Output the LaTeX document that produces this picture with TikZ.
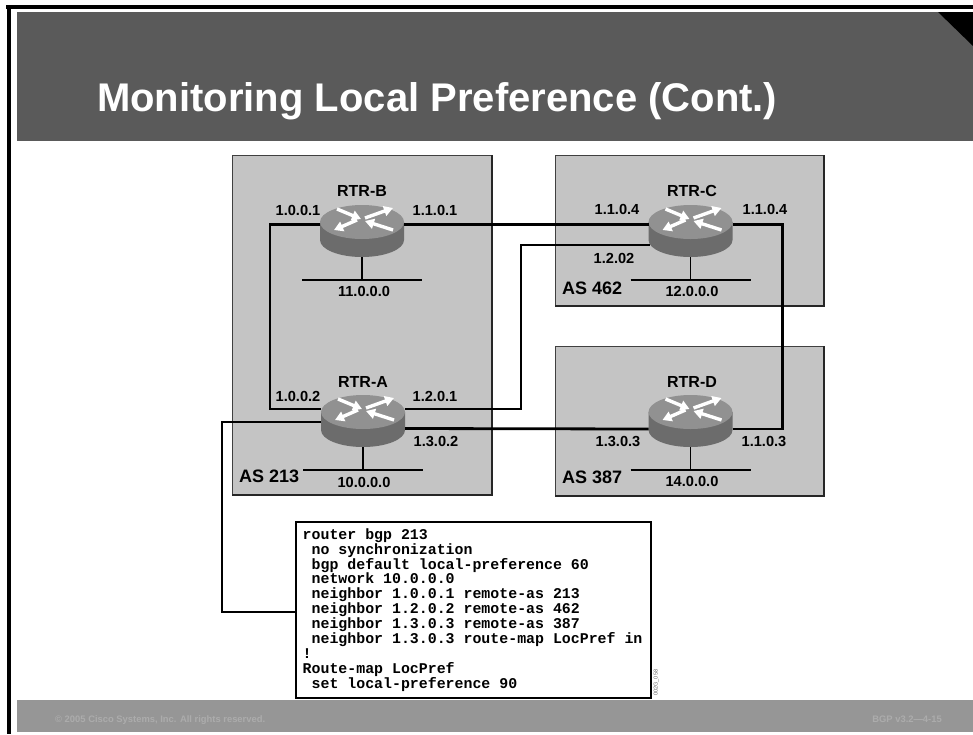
\documentclass[tikz,border=0pt]{standalone}
\usepackage{fontspec}
\setmainfont{Liberation Sans}
\setmonofont{Liberation Mono}
\usetikzlibrary{arrows.meta}
\usetikzlibrary{calc}
\definecolor{headgrey}{RGB}{90,90,90}
\definecolor{footgrey}{RGB}{150,150,150}
\definecolor{foottext}{RGB}{172,172,172}
\definecolor{boxgrey}{RGB}{196,196,196}
\definecolor{routertop}{RGB}{145,145,145}
\definecolor{routerbody}{RGB}{108,108,108}
\def\cind{\hspace*{8.94pt}}
\tikzset{rtrshape/.pic={code={
    \fill [routerbody] (-42, -9) -- (-42, 9)
        arc [start angle=180,end angle=360,x radius=42pt,y radius=17pt] -- (42, -9) -- cycle;
    \fill [routertop] (0, -9) ellipse [x radius=42pt,y radius=17pt];
    \draw [rarrow] (-25, -22) -- (-1, -12);
    \draw [rarrow] (  3, -13) -- (31, -23);
    \draw [rarrow] ( -5, -11) -- (-28, -1);
    \draw [rarrow] ( 31,  -1) -- ( 3, -10);
}}}

\begin{document}
\begin{tikzpicture}[
    x=1pt,y=-1pt,
    every node/.style={font=\bfseries},
    rarrow/.style={draw=white,line width=3.4pt,-{Triangle[length=9pt,width=10pt]}},
    lab/.style={font=\bfseries\fontsize{14.6}{14.6}\selectfont,inner sep=0,anchor=base},
    namelab/.style={font=\bfseries\fontsize{16}{16}\selectfont,inner sep=0,anchor=base},
    aslab/.style={font=\bfseries\fontsize{18}{18}\selectfont,inner sep=0,anchor=base west},
    foot/.style={font=\bfseries\fontsize{9.4}{9.4}\selectfont,text=foottext,inner sep=0},
    asbox/.style={
        draw=black!75,
        fill=boxgrey,
        line width=1pt,
        inner sep=0,
        outer sep=0,
        anchor=north west
    },
    router/.style={
        minimum width=84pt,
        minimum height=52pt,
        inner sep=0,
        outer sep=0
    },
    link/.style={draw=black,line width=2.8pt},
    net/.style={draw=black,line width=1.5pt}
]

\useasboundingbox (0, 0) rectangle (973, 734);
\fill [white] (0, 0) rectangle (973, 734);
\fill [black] (6, 5) rectangle (973, 9);
\fill [black] (7, 5) rectangle (11, 734);
\fill [headgrey] (17, 12) rectangle (973, 141);
\fill [black] (938, 12) -- (973, 12) -- (973, 46) -- cycle;
\fill [footgrey] (17, 700) rectangle (973, 732);

\node [font=\bfseries\fontsize{40}{40}\selectfont,text=white,inner sep=0,anchor=base west] (title) at (97, 111) {Monitoring Local Preference (Cont.)};
\node [foot,anchor=base west] (copyright) at (55, 722) {© 2005 Cisco Systems, Inc. All rights reserved.};
\node [foot,anchor=base east] (course) at (942, 722) {BGP v3.2—4-15};

\node [asbox,minimum width=260pt,minimum height=340pt] (boxab) at (232, 155) {};
\node [asbox,minimum width=269pt,minimum height=151pt] (boxc) at (555, 155) {};
\node [asbox,minimum width=269pt,minimum height=150pt] (boxd) at (555, 346) {};
\foreach \b in {boxab,boxc,boxd}
    \draw [line width=2pt,draw=black!85] (\b.north east) -- (\b.south east) -- (\b.south west);

\node [router] (rtrb) at (362, 231) {};
\node [router] (rtra) at (363, 421) {};
\node [router] (rtrc) at (690.5, 231) {};
\node [router] (rtrd) at (690.5, 421) {};
\foreach \r in {rtra,rtrb,rtrc,rtrd}
    \path (\r.center) pic {rtrshape};

\coordinate (bw) at ($(rtrb)+(-42,-6.5)$);
\coordinate (be) at ($(rtrb)+(42,-6.5)$);
\coordinate (cw) at ($(rtrc)+(-42,-6.5)$);
\coordinate (ce) at ($(rtrc)+(42,-6.5)$);
\coordinate (cs) at ($(rtrc)+(-41,14)$);
\coordinate (aw) at ($(rtra)+(-42,-12)$);
\coordinate (ae) at ($(rtra)+(42,-12)$);
\coordinate (ax) at ($(rtra)+(-42,1)$);
\coordinate (ay) at ($(rtra)+(42,7.5)$);
\coordinate (dw) at ($(rtrd)+(-42,8)$);
\coordinate (de) at ($(rtrd)+(42,8)$);

\node [draw=black,fill=white,line width=1.2pt,inner ysep=0,inner xsep=6.7pt,outer sep=0,
    anchor=north west,minimum width=355pt,minimum height=176pt,text width=341.6pt,align=left,
    font=\ttfamily\bfseries\fontsize{14.9}{14.94}\selectfont] (config) at (296, 522) {%
    \spaceskip=8.94pt\relax
    router bgp 213\\%
    \cind no synchronization\\%
    \cind bgp default local-preference 60\\%
    \cind network 10.0.0.0\\%
    \cind neighbor 1.0.0.1 remote-as 213\\%
    \cind neighbor 1.2.0.2 remote-as 462\\%
    \cind neighbor 1.3.0.3 remote-as 387\\%
    \cind neighbor 1.3.0.3 route-map LocPref in\\%
    !\\%
    Route-map LocPref\\%
    \cind set local-preference 90};
\node [font=\fontsize{5.6}{5.6}\selectfont,text=black!60,inner sep=0,rotate=90,anchor=south west] (figid) at (659, 696) {002G\_058};

\draw [link] (bw) -- ++(-50, 0) |- (aw);
\draw [link] (be) -- (cw);
\draw [link] (ae) -- ++(116, 0) |- (cs);
\draw [link] (ay) -- (dw);
\draw [link] (de) -- ++(50, 0) |- (ce);
\draw [draw=black,line width=2pt] (ax) -- ++(-99, 0) |- (config.west |- 0, 612);

\foreach \r/\y in {rtrb/280,rtrc/280,rtra/470,rtrd/470} {
    \coordinate (\r net) at (\r |- 0, \y);
    \draw [net] ($(\r)+(0,26)$) -- (\r net);
    \draw [net] ($(\r net)+(-60,0)$) -- ($(\r net)+(60,0)$);
}

\node [namelab] (nameb) at (362, 196) {RTR-B};
\node [namelab] (namea) at (363, 387) {RTR-A};
\node [namelab] (namec) at (692, 196) {RTR-C};
\node [namelab] (named) at (692, 387) {RTR-D};

\node [lab] (ipb1) at (298, 215) {1.0.0.1};
\node [lab] (ipb2) at (435, 215) {1.1.0.1};
\node [lab] (ipa1) at (298, 401) {1.0.0.2};
\node [lab] (ipa2) at (435, 401) {1.2.0.1};
\node [lab] (ipa3) at (436, 446) {1.3.0.2};
\node [lab] (ipc1) at (617, 214) {1.1.0.4};
\node [lab] (ipc2) at (765, 214) {1.1.0.4};
\node [lab] (ipc3) at (614, 263) {1.2.02};
\node [lab] (ipd1) at (618, 446) {1.3.0.3};
\node [lab] (ipd2) at (764, 446) {1.1.0.3};

\node [lab] (netb) at (364, 296) {11.0.0.0};
\node [lab] (neta) at (364, 487) {10.0.0.0};
\node [lab] (netc) at (692, 296) {12.0.0.0};
\node [lab] (netd) at (692, 486) {14.0.0.0};

\node [aslab] (as213) at (239, 482) {AS 213};
\node [aslab] (as462) at (562, 294) {AS 462};
\node [aslab] (as387) at (562, 483) {AS 387};

\end{tikzpicture}
\end{document}
